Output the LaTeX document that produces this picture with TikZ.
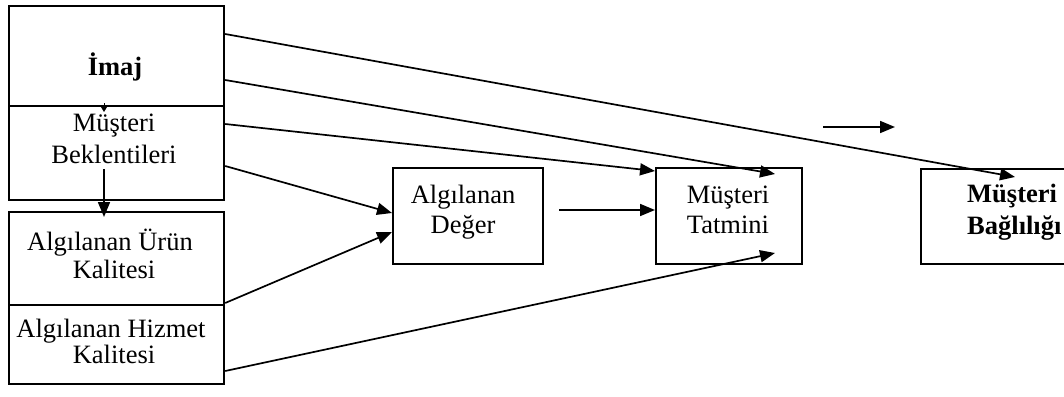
\documentclass[tikz,border=0pt]{standalone}
\usepackage{fontspec}
\setmainfont{Liberation Serif}
\usetikzlibrary{arrows.meta}
\begin{document}
\begin{tikzpicture}[x=1pt,y=-1pt,
  box/.style={draw, line width=2.2pt, anchor=north west, inner sep=0pt},
  divider/.style={line width=1.3pt},
  txt/.style={anchor=base, inner sep=0pt, font=\fontsize{26.5}{30}\selectfont},
  btxt/.style={anchor=base, inner sep=0pt, font=\fontsize{26.5}{30}\selectfont\bfseries},
  conn/.style={line width=1.7pt, -{Triangle[length=15pt,width=12pt]}},
  tiny/.style={line width=1pt, -{Triangle[length=6pt,width=7pt]}}]
\useasboundingbox (0,0) rectangle (1064,396);
\clip (0,0) rectangle (1064,396);
% boxes
\node[box, minimum width=215pt, minimum height=194pt] (imaj) at (8,5) {};
\node[box, minimum width=215pt, minimum height=172pt] (urun) at (8,211) {};
\node[box, minimum width=150pt, minimum height=96pt] (deger) at (392,167) {};
\node[box, minimum width=146pt, minimum height=96pt] (tatmin) at (655,167) {};
\node[box, minimum width=170pt, minimum height=95pt] (bag) at (920,168) {};
% dividers
\draw[divider] (imaj.west |- 0,106) -- (imaj.east |- 0,106);
\draw[divider] (urun.west |- 0,305) -- (urun.east |- 0,305);
% texts
\node[btxt] (timaj) at (115,75) {İmaj};
\node[txt] (tmb1) at (114,131) {Müşteri};
\node[txt] (tmb2) at (114,163) {Beklentileri};
\node[txt] (tau1) at (110,250) {Algılanan Ürün};
\node[txt] (tau2) at (114,278) {Kalitesi};
\node[txt] (tah1) at (111,337) {Algılanan Hizmet};
\node[txt] (tah2) at (114,363) {Kalitesi};
\node[txt] (td1) at (463,203) {Algılanan};
\node[txt] (td2) at (463,233) {Değer};
\node[txt] (tt1) at (728,203) {Müşteri};
\node[txt] (tt2) at (728,233) {Tatmini};
\node[btxt, anchor=base west] (tb1) at (967,202) {Müşteri};
\node[btxt, anchor=base west] (tb2) at (967,234) {Bağlılığı};
% connector end points
\coordinate (s1) at (imaj.east |- 0,34);
\coordinate (s2) at (imaj.east |- 0,80);
\coordinate (s3) at (imaj.east |- 0,124);
\coordinate (s4) at (imaj.east |- 0,166);
\coordinate (s5) at (urun.east |- 0,303);
\coordinate (s6) at (urun.east |- 0,371);
\coordinate (e1) at (1015,177);
\coordinate (e2) at (775,174);
\coordinate (e3) at (tatmin.west |- 0,171);
\coordinate (e4) at (deger.west |- 0,213);
\coordinate (e5) at (deger.west |- 0,232);
\coordinate (e6) at (775,253);
\coordinate (s7) at (559,210);
\coordinate (e7) at (tatmin.west |- 0,210);
\coordinate (f1) at (823,127);
\coordinate (f2) at (895,127);
\coordinate (b1) at (104,169);
\coordinate (b2) at (104,217);
\coordinate (m1) at (104,103);
\coordinate (m2) at (104,112);
% connectors
\draw[conn] (s1) -- (e1);
\draw[conn] (s2) -- (e2);
\draw[conn] (s3) -- (e3);
\draw[conn] (s4) -- (e4);
\draw[conn] (s5) -- (e5);
\draw[conn] (s6) -- (e6);
\draw[conn] (s7) -- (e7);
\draw[conn] (f1) -- (f2);
\draw[conn] (b1) -- (b2);
\draw[tiny] (m1) -- (m2);
\end{tikzpicture}
\end{document}
